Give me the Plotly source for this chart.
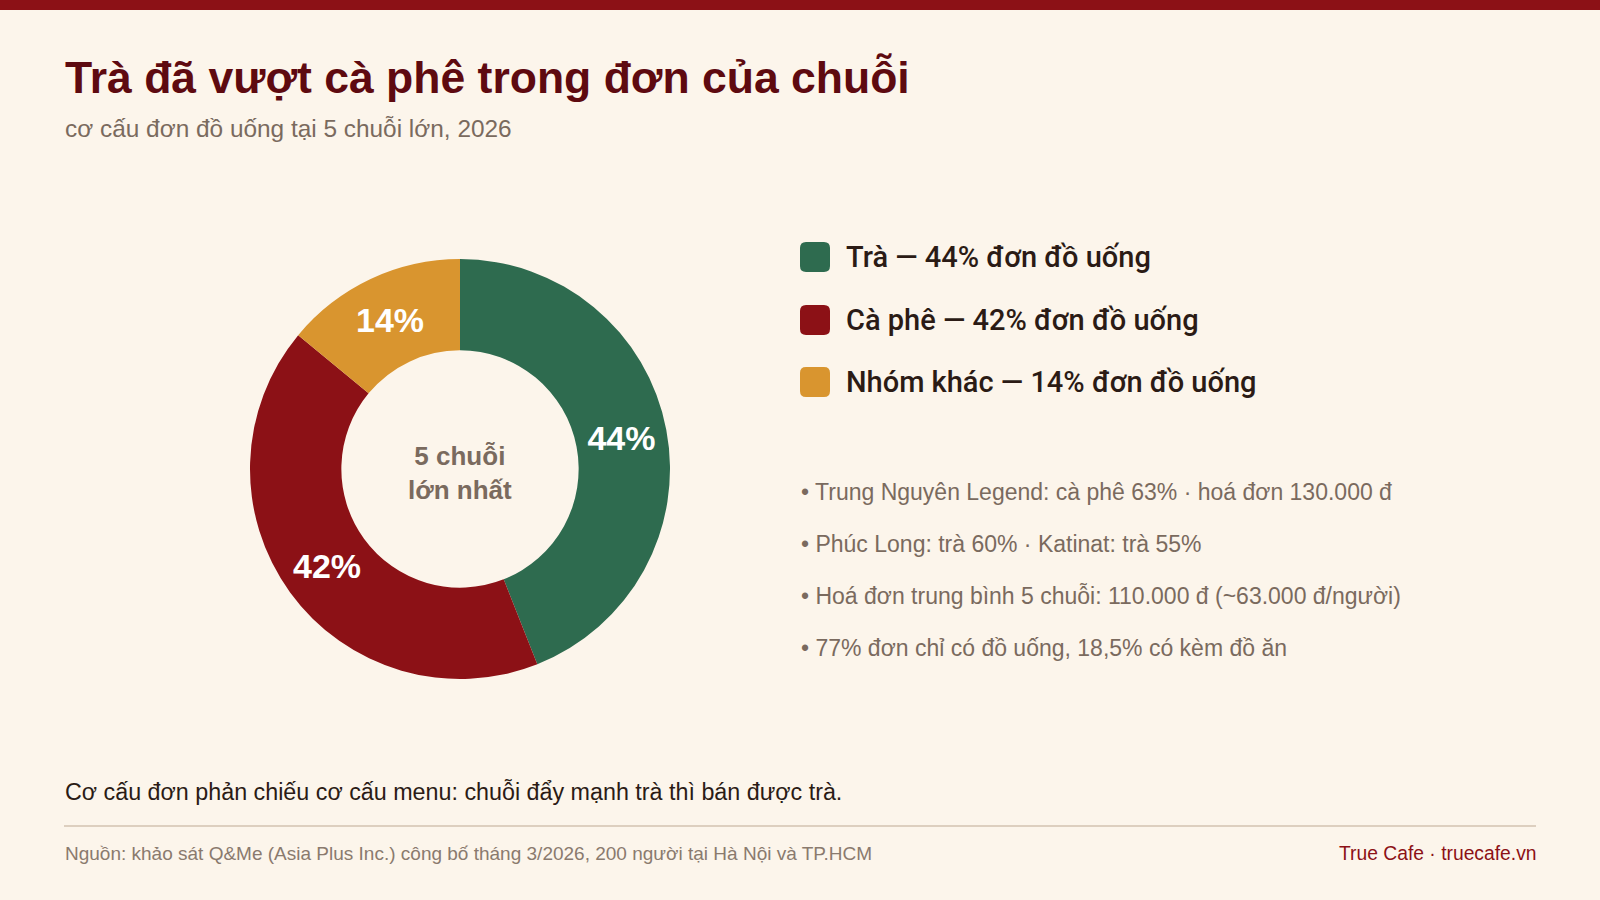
import plotly.graph_objects as go

# ---- data ----
categories = ["Trà", "Cà phê", "Nhóm khác"]
shares = [44, 42, 14]
colors = ["#2E6B4F", "#8C1116", "#D9952F"]
legend_suffix = "đơn đồ uống"
center_label = ["5 chuỗi", "lớn nhất"]
bullets = [
    "Trung Nguyên Legend: cà phê 63% · hoá đơn 130.000 đ",
    "Phúc Long: trà 60% · Katinat: trà 55%",
    "Hoá đơn trung bình 5 chuỗi: 110.000 đ (~63.000 đ/người)",
    "77% đơn chỉ có đồ uống, 18,5% có kèm đồ ăn",
]
title = "Trà đã vượt cà phê trong đơn của chuỗi"
subtitle = "cơ cấu đơn đồ uống tại 5 chuỗi lớn, 2026"
takeaway = "Cơ cấu đơn phản chiếu cơ cấu menu: chuỗi đẩy mạnh trà thì bán được trà."
source = "Nguồn: khảo sát Q&Me (Asia Plus Inc.) công bố tháng 3/2026, 200 người tại Hà Nội và TP.HCM"
brand = "True Cafe · truecafe.vn"

W, H = 1600, 900
BG = "#FCF5EB"
FONT = "Liberation Sans, Arial, Helvetica, sans-serif"
FONT_MED = "Roboto, Liberation Sans, Arial, sans-serif"


def px(x):
    return x / W


def py(y):
    return 1 - y / H


fig = go.Figure()

cx, cy, R = 460, 469, 210
fig.add_trace(go.Pie(
    labels=categories,
    values=shares,
    marker=dict(colors=colors, line=dict(width=0)),
    hole=0.565,
    sort=False,
    direction="clockwise",
    rotation=0,
    texttemplate="%{value}%",
    textposition="inside",
    insidetextorientation="horizontal",
    insidetextfont=dict(family=FONT, size=34, color="white", weight="bold"),
    hoverinfo="label+value",
    showlegend=False,
    domain=dict(x=[px(cx - R), px(cx + R)], y=[py(cy + R), py(cy - R)]),
))

annotations = []
shapes = []

# top bar
shapes.append(dict(type="rect", xref="paper", yref="paper", x0=0, x1=1, y0=py(10), y1=1,
                   fillcolor="#8C1116", line=dict(width=0), layer="above"))

# title / subtitle
annotations.append(dict(text=title, x=px(63), y=py(77), xref="paper", yref="paper",
                        xanchor="left", yanchor="middle", showarrow=False,
                        font=dict(family=FONT, size=44.5, color="#5E0A10", weight="bold")))
annotations.append(dict(text=subtitle, x=px(63), y=py(128), xref="paper", yref="paper",
                        xanchor="left", yanchor="middle", showarrow=False,
                        font=dict(family=FONT, size=24.4, color="#7A6A5E")))

# center label
annotations.append(dict(text="<br>".join(center_label), x=px(cx), y=py(cy + 4), xref="paper", yref="paper",
                        xanchor="center", yanchor="middle", showarrow=False,
                        font=dict(family=FONT, size=26, color="#7A6A5E", weight="bold")))

# custom legend
leg_y = [257, 320, 382]
sq = 30
r = 6


def conv(p):
    out = []
    for tok in p.split(" "):
        if "," in tok:
            a, b = tok.split(",")
            out.append(f"{px(float(a)):.6f},{py(float(b)):.6f}")
        else:
            out.append(tok)
    return " ".join(out)


for cat, val, col, ly in zip(categories, shares, colors, leg_y):
    x0, x1 = 800, 800 + sq
    y0, y1 = ly - sq / 2, ly + sq / 2
    path = (f"M {x0 + r},{y0} L {x1 - r},{y0} Q {x1},{y0} {x1},{y0 + r} "
            f"L {x1},{y1 - r} Q {x1},{y1} {x1 - r},{y1} L {x0 + r},{y1} "
            f"Q {x0},{y1} {x0},{y1 - r} L {x0},{y0 + r} Q {x0},{y0} {x0 + r},{y0} Z")
    shapes.append(dict(type="path", xref="paper", yref="paper", path=conv(path),
                       fillcolor=col, line=dict(width=0)))
    annotations.append(dict(text=f"{cat} — {val}% {legend_suffix}", x=px(844), y=py(ly), xref="paper",
                            yref="paper", xanchor="left", yanchor="middle", showarrow=False,
                            font=dict(family=FONT_MED, size=29, color="#2B1B15", weight=500)))

# bullets
bul_y = [492, 544, 596, 648]
for b, by in zip(bullets, bul_y):
    annotations.append(dict(text="• " + b, x=px(799), y=py(by), xref="paper", yref="paper",
                            xanchor="left", yanchor="middle", showarrow=False,
                            font=dict(family=FONT, size=23, color="#7A6A5E")))

# takeaway
annotations.append(dict(text=takeaway, x=px(63), y=py(792), xref="paper", yref="paper",
                        xanchor="left", yanchor="middle", showarrow=False,
                        font=dict(family=FONT, size=23.3, color="#2B1B15")))

# divider
shapes.append(dict(type="line", xref="paper", yref="paper", x0=px(64), x1=px(1536),
                   y0=py(826), y1=py(826), line=dict(color="#DDCFBF", width=2)))

# footer
annotations.append(dict(text=source, x=px(63), y=py(853), xref="paper", yref="paper",
                        xanchor="left", yanchor="middle", showarrow=False,
                        font=dict(family=FONT, size=19, color="#8A7A6E")))
annotations.append(dict(text=brand, x=px(1539), y=py(853), xref="paper", yref="paper",
                        xanchor="right", yanchor="middle", showarrow=False,
                        font=dict(family=FONT, size=19.3, color="#8C1116")))

fig.update_layout(
    width=W, height=H,
    margin=dict(l=0, r=0, t=0, b=0),
    paper_bgcolor=BG, plot_bgcolor=BG,
    shapes=shapes, annotations=annotations,
    font=dict(family=FONT),
)

fig.write_html("out.html", config={"displayModeBar": False},
               post_script="document.body.style.margin='0';document.body.style.overflow='hidden';"
                           "document.body.style.background='" + BG + "';")
